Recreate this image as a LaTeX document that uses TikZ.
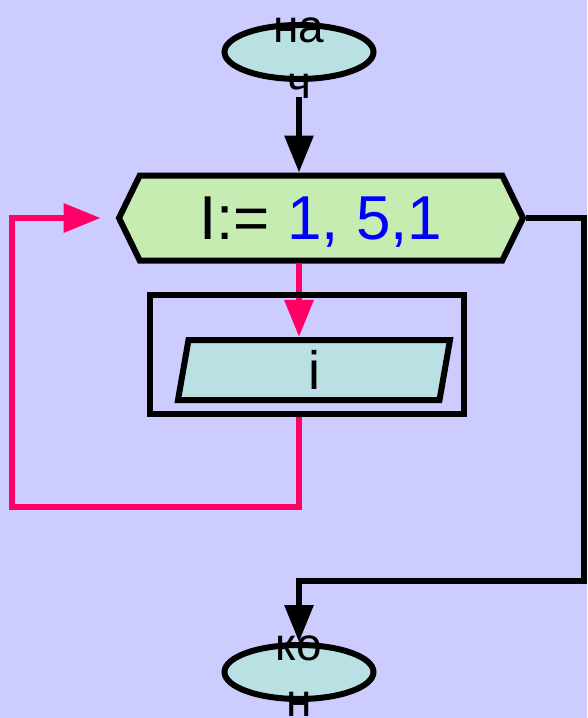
\documentclass[tikz,border=0pt]{standalone}
\usepackage{fontspec}
\setmainfont{Liberation Sans}
\usetikzlibrary{shapes.geometric,shapes.symbols,arrows.meta}
\definecolor{bgblue}{RGB}{204,204,255}
\definecolor{termfill}{RGB}{185,224,227}
\definecolor{loopfill}{RGB}{198,236,178}
\definecolor{backpink}{RGB}{255,0,102}
\begin{document}
\begin{tikzpicture}[x=1pt,y=-1pt,
    every path/.style={line width=6pt},
    term/.style={ellipse,draw,fill=termfill,minimum width=149pt,minimum height=54pt,inner sep=0pt},
    termtext/.style={anchor=base,align=center,font=\fontsize{46}{56}\selectfont},
    arr/.style={-{Triangle[width=28pt,length=37pt]}}]
  \fill[bgblue](0,0)rectangle(587,718);
  \useasboundingbox(0,0)rectangle(587,718);
  \node[term](start)at(299,52){};
  \node[termtext](starttxt)at([yshift=-46pt]start.center){на\\ч};
  \node[signal,signal to=west and east,signal pointer angle=128,draw,fill=loopfill,
        minimum width=404pt,minimum height=85pt,inner sep=0pt,text depth=0pt,
        font=\fontsize{62}{70}\selectfont](loop)at(321,218){I:= \textcolor{blue}{1, 5,1}};
  \node[trapezium,trapezium left angle=75,trapezium right angle=105,trapezium stretches body=true,
        draw,fill=termfill,minimum width=272pt,minimum height=60pt,inner sep=0pt,
        font=\fontsize{54}{60}\selectfont](out)at(314,370){i};
  \node[term](stop)at(299,672){};
  \node[termtext](stoptxt)at([yshift=-44pt]stop.center){ко\\н};
  \coordinate(back)at(12,507);
  \coordinate(exit)at(584,581);
  \draw[arr,shorten <=15pt](start.south)--(start.south|-loop.north);
  \draw[arr,backpink](start.south|-loop.south)--(start.south|-out.north);
  \node[draw,minimum width=314pt,minimum height=119pt,inner sep=0pt](body)at(307,354.5){};
  \draw[arr,backpink,shorten >=15pt](start.south|-body.south)--(start.south|-back)--(back)|-(loop.west);
  \draw[arr](loop.east)-|(exit)--(start.south|-exit)--(stop.north);
\end{tikzpicture}
\end{document}
